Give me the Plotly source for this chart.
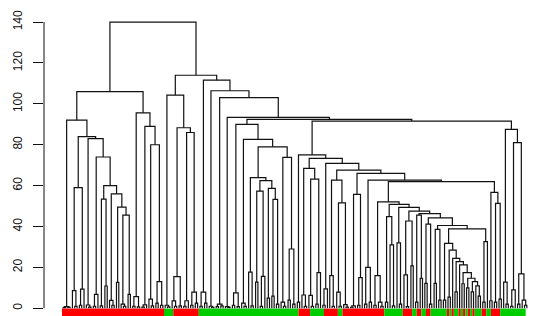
import plotly.graph_objects as go

# ---------------- data: dendrogram tree (merge height, left, right); L = leaf ----------------
L = 0

cluster_A = (92,
    (0.8, (0.3, L, L), (0.5, L, L)),
    (84,
        (59, (8.6, L, (1.0, L, L)), (9.4, (1.5, L, L), L)),
        (83,
            (1.6, L, (0.6, L, L)),
            (74,
                (6.8, (1.0, L, L), L),
                (60,
                    (53.4, (1.2, L, L), (10.9, L, L)),
                    (56,
                        (3.9, L, (1.5, L, L)),
                        (49.5,
                            (12.7, L, L),
                            (45.6, (2.0, L, (1.0, L, L)), (6.8, L, L)))))))))

cluster_B = (95.6,
    (5.7, (1.0, L, L), (0.7, L, L)),
    (89,
        (1.7, (0.6, L, L), L),
        (80,
            (4.5, L, (1.2, L, L)),
            (13, (2.5, L, L), (1.5, L, L)))))

cluster_R1 = (104.3,
    (1.5, L, (0.7, L, L)),
    (88.3,
        (15.5, (3.6, L, (1.0, L, L)), (1.2, L, L)),
        (86,
            (3.7, (1.0, L, L), L),
            (7.9, (1.5, L, L), (2.5, L, L)))))

cluster_B1 = (90,
    (7.5, (1.5, L, L), (0.8, L, L)),
    (82.6,
        (2.5, L, (1.0, L, L)),
        (79,
            (63.9,
                (17.7, L, (1.2, L, L)),
                (62.4,
                    (57.3, (12.8, L, L), (15.6, (1.0, L, L), L)),
                    (58.7, (5.0, L, L), (53.3, (6.0, L, L), (2.0, L, L))))),
            (73.8, (3.0, L, (1.0, L, L)), (29, (4.0, L, L), (2.0, L, L))))))

cascade_low = (38.8,
    (31.8, (4, L, L),
        (28.5, (5.5, L, L),
            (24.4, L,
                (22.8, (8, L, L),
                    (21.2, L,
                        (17.4, (12, L, L),
                            (14.7, (10, L, L),
                                (13, (8, L, L), (11, L, (6, L, L)))))))))),
    (32.6, (3, L, L), L))

cascade_high = (52.1,
    (16, (1.5, L, L), (3, L, (1.0, L, L))),
    (50.8, (44.8, (3, L, L), (31, L, (1.2, L, L))),
        (49.4, (32, L, (2, L, L)),
            (47.5, (42.7, (16.3, L, (0.8, L, L)), (20.7, L, L)),
                (46.3, (45.6, (3, L, L), (14.7, L, L)),
                    (44.2, (41.2, (12.2, L, L), (2, L, L)),
                        (40.5, (38.6, (12.2, L, L), (4, L, L)), cascade_low)))))))

cluster_E = (56.7, (3.7, L, L), (51.3, (3, L, L), (4.5, L, L)))
cluster_D = (87.5, (12.8, L, (2.0, L, L)),
             (81, (9.0, (1.0, L, L), L), (16.8, (2.0, L, L), (4.0, L, (1.5, L, L)))))

cluster_C1 = (75, (3.0, L, L),
    (73.3,
        (68.4, (6.5, L, (1.0, L, L)), (63.2, (6.3, L, (1.0, L, L)), (17.4, (2.0, L, L), L))),
        (70.9, (9.5, (1.5, L, L), L),
            (67.6,
                (62.7, (16, L, (1.0, L, L)), (51.6, (7.9, L, (1.0, L, L)), (1.8, L, (0.6, L, L)))),
                (66,
                    (55.7, (1.2, (0.5, L, L), L), (15, (1.5, L, L), L)),
                    (62.7, (20, (2, L, L), (3, L, L)),
                        (62, cascade_high, cluster_E)))))))

cluster_R2 = (111.6,
    (7.9, (1.0, L, L), (2.5, L, L)),
    (106.4,
        (1.0, L, (0.5, L, L)),
        (103,
            (2.0, (0.8, L, L), (1.2, L, L)),
            (93.4,
                (0.8, L, (0.4, L, L)),
                (92.4, cluster_B1, (91.6, cluster_C1, cluster_D))))))

tree = (140, (106, cluster_A, cluster_B), (114, cluster_R1, cluster_R2))

# leaf group colour bar, as runs of (group, number of leaves), left to right
group_runs = [("red", 44), ("green", 4), ("red", 11), ("green", 43), ("red", 5), ("green", 6),
              ("red", 6), ("green", 2), ("red", 18), ("green", 8), ("red", 4), ("green", 2),
              ("red", 2), ("green", 2), ("red", 2), ("green", 7), ("red", 1), ("green", 1),
              ("red", 1), ("green", 2), ("red", 1), ("green", 1), ("red", 1), ("green", 1),
              ("red", 1), ("green", 1), ("red", 1), ("green", 3), ("red", 2), ("green", 2),
              ("red", 4), ("green", 11)]
group_colors = {"red": "#FF0000", "green": "#00CD00"}

y_ticks = [0, 20, 40, 60, 80, 100, 120, 140]

# ---------------- layout of the tree ----------------
xs, ys = [], []
counter = [0]


def place(node):
    if node == L:
        counter[0] += 1
        return float(counter[0]), 0.0
    h, a, b = node
    xa, ha = place(a)
    xb, hb = place(b)
    xs.extend([xa, xa, xb, xb, None])
    ys.extend([ha, h, h, hb, None])
    return (xa + xb) / 2.0, h


place(tree)
n = counter[0]

W, H = 536, 316
left_px, bar_left_px, bar_right_px = 44, 62, 528
s = (bar_right_px - bar_left_px) / n
x0 = 0.5 - (bar_left_px - left_px) / s
x1 = x0 + (W - left_px) / s
y_lo, y_hi = -3.77, 150.8

fig = go.Figure()
fig.add_trace(go.Scatter(x=xs, y=ys, mode="lines", line=dict(color="#111111", width=1.2),
                         hoverinfo="skip", showlegend=False))

shapes = []
pos = 0
for g, k in group_runs:
    shapes.append(dict(type="rect", xref="x", yref="y", x0=pos + 0.5, x1=pos + k + 0.5,
                       y0=-0.15, y1=y_lo, fillcolor=group_colors[g], line=dict(width=0),
                       layer="below"))
    pos += k
shapes.append(dict(type="line", xref="paper", yref="y", x0=0, x1=0, y0=0, y1=140,
                   line=dict(color="#111111", width=1)))

fig.update_layout(
    width=W, height=H,
    margin=dict(l=left_px, r=0, t=0, b=0),
    paper_bgcolor="white", plot_bgcolor="white",
    shapes=shapes,
    hovermode=False,
    xaxis=dict(range=[x0, x1], visible=False),
    yaxis=dict(range=[y_lo, y_hi], tickvals=y_ticks, ticktext=[str(v) for v in y_ticks],
               ticks="outside", ticklen=10, tickwidth=1, tickcolor="#111111",
               tickangle=-90, showgrid=False, zeroline=False, showline=False,
               ticklabelstandoff=6,
               tickfont=dict(family="Liberation Sans, Arial, sans-serif", size=12, color="#111111")),
)

fig.write_html("out.html", config={"displayModeBar": False, "staticPlot": True},
               post_script="document.body.style.margin='0px';document.body.style.padding='0px';")
